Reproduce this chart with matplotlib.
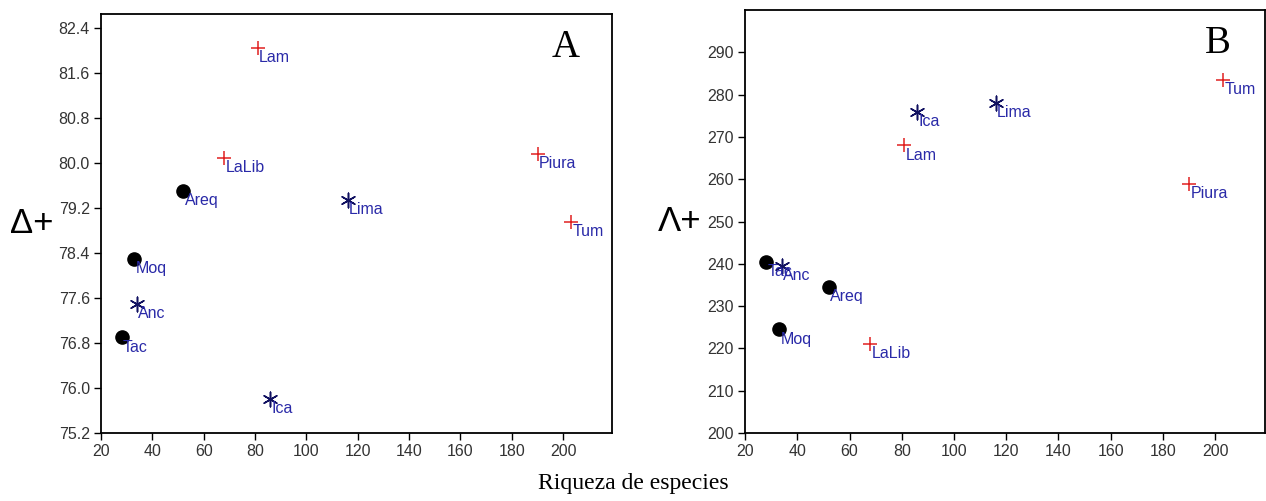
import matplotlib.pyplot as plt

# species richness and taxonomic distinctness per region
regions = ['Lam', 'LaLib', 'Piura', 'Tum', 'Lima', 'Anc', 'Ica', 'Areq', 'Moq', 'Tac']
groups = ['plus', 'plus', 'plus', 'plus', 'star', 'star', 'star', 'dot', 'dot', 'dot']
riqueza = [81, 68, 190, 203, 116, 34, 86, 52, 33, 28]
delta_plus = [82.05, 80.1, 80.17, 78.95, 79.35, 77.5, 75.8, 79.5, 78.3, 76.9]
lambda_plus = [268, 221, 259, 283.5, 278, 239.5, 276, 234.5, 224.5, 240.5]

yticks_a = [75.2, 76.0, 76.8, 77.6, 78.4, 79.2, 80.0, 80.8, 81.6, 82.4]
yticks_b = [200, 210, 220, 230, 240, 250, 260, 270, 280, 290]
xticks = [20, 40, 60, 80, 100, 120, 140, 160, 180, 200]

styles = {
    'plus': dict(marker='+', color='#e02020', s=110, linewidths=1.1),
    'star': dict(marker=(6, 2, 0), color='#101060', s=110, linewidths=1.1),
    'dot': dict(marker='o', color='black', s=90),
}
label_color = '#2a2aa8'

plt.rcParams['font.family'] = ['Liberation Sans', 'DejaVu Sans']

fig = plt.figure(figsize=(12.66, 5.01), dpi=100)
ax_a = fig.add_axes([0.0798, 0.1357, 0.4036, 0.836])
ax_b = fig.add_axes([0.5885, 0.1357, 0.4105, 0.844])


def draw_panel(ax, yvals, yticks, ylim, ylabel, letter, pad):
    for g in ['plus', 'star', 'dot']:
        xs = [x for x, gg in zip(riqueza, groups) if gg == g]
        ys = [y for y, gg in zip(yvals, groups) if gg == g]
        ax.scatter(xs, ys, zorder=3, **styles[g])
    for name, x, y in zip(regions, riqueza, yvals):
        ax.annotate(name, (x, y), xytext=(1, -1.5), textcoords='offset points',
                    ha='left', va='top', color=label_color, fontsize=11.5)
    ax.set_xlim(20, 219)
    ax.set_ylim(*ylim)
    ax.set_xticks(xticks)
    ax.set_yticks(yticks)
    ax.tick_params(direction='out', length=5, width=1, labelsize=11.5,
                   labelcolor='#333333', pad=3)
    for sp in ax.spines.values():
        sp.set_linewidth(1.3)
    ax.text(0.91, 0.92, letter, transform=ax.transAxes, ha='center', va='center',
            fontsize=28, family='Liberation Serif')
    ax.set_ylabel(ylabel, rotation=0, fontsize=25, labelpad=pad, va='center')


draw_panel(ax_a, delta_plus, yticks_a, (75.2, 82.65), 'Δ+', 'A', 19)
ax_a.set_yticklabels([f'{v:.1f}' for v in yticks_a])
draw_panel(ax_b, lambda_plus, yticks_b, (200, 300), 'Λ+', 'B', 20)

fig.text(0.5, 0.035, 'Riqueza de especies', ha='center', va='center',
         fontsize=17, family='Liberation Serif')

fig.savefig('out.png', dpi=100)
